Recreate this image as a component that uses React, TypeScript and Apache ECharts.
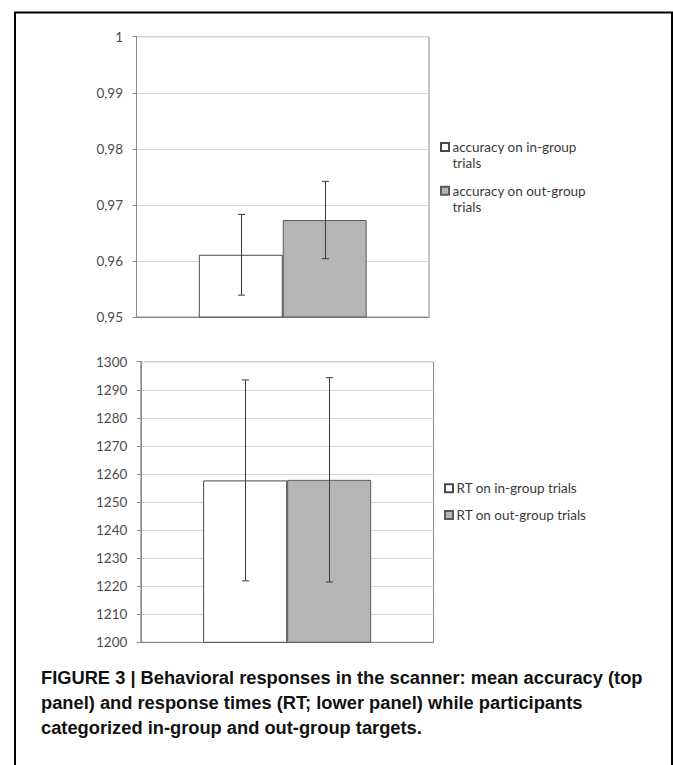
import React, { useEffect, useRef } from "react";
import * as echarts from "echarts";

const categories = [""];
const accSeriesNames = ["accuracy on in-group trials", "accuracy on out-group trials"];
const accMeans = [0.9611, 0.9673];
const accErrors = [0.0072, 0.0069];
const rtSeriesNames = ["RT on in-group trials", "RT on out-group trials"];
const rtMeans = [1257.7, 1257.9];
const rtErrors = [35.8, 36.4];
const captionLines = [
  "FIGURE 3 | Behavioral responses in the scanner: mean accuracy (top",
  "panel) and response times (RT; lower panel) while participants",
  "categorized in-group and out-group targets.",
];

const BAR_CAT_GAP = 0.426;
const labelFont = "Lato";
const fills = ["#ffffff", "#b5b5b5"];
const borders = ["#4a4a4a", "#5a5a5a"];

function errorRender(barIndex: number) {
  return (params: any, api: any) => {
    const cat = api.value(0);
    const lo = api.value(1);
    const hi = api.value(2);
    const band = api.size([1, 0])[0];
    const bw = (band * (1 - BAR_CAT_GAP)) / 2;
    const off = barIndex === 0 ? -bw / 2 : bw / 2;
    const pLo = api.coord([cat, lo]);
    const pHi = api.coord([cat, hi]);
    const x = Math.round(pLo[0] + off) + 0.5;
    const cap = 3.5;
    const style = { stroke: "#3c3c3c", lineWidth: 1 };
    return {
      type: "group",
      children: [
        { type: "line", shape: { x1: x, y1: pLo[1], x2: x, y2: pHi[1] }, style },
        { type: "line", shape: { x1: x - cap, y1: pLo[1], x2: x + cap, y2: pLo[1] }, style },
        { type: "line", shape: { x1: x - cap, y1: pHi[1], x2: x + cap, y2: pHi[1] }, style },
      ],
    };
  };
}

export default function App() {
  const ref = useRef<HTMLDivElement>(null);
  useEffect(() => {
    document.body.style.margin = "0";
    const chart = echarts.init(ref.current!, null, { renderer: "svg" });
    const yAxisCommon = {
      type: "value",
      axisLine: { show: true, lineStyle: { color: "#8a8a8a", width: 1 } },
      axisTick: { show: true, length: 4, lineStyle: { color: "#8a8a8a" } },
      splitLine: { show: true, lineStyle: { color: "#d4d4d4", width: 1 } },
      axisLabel: { color: "#4d4d4d", fontFamily: labelFont, fontSize: 13.5, margin: 13.5 },
    };
    const xAxisCommon = {
      type: "category",
      data: categories,
      axisLine: { show: true, lineStyle: { color: "#8a8a8a", width: 1 } },
      axisTick: { show: false },
      axisLabel: { show: false },
    };
    const barSeries = (name: string, i: number, value: number, axisIdx: number) => ({
      type: "bar",
      name,
      xAxisIndex: axisIdx,
      yAxisIndex: axisIdx,
      data: [value],
      barGap: "0%",
      barCategoryGap: BAR_CAT_GAP * 100 + "%",
      itemStyle: { color: fills[i], borderColor: borders[i], borderWidth: 1 },
      z: 2,
    });
    const option: any = {
      animation: false,
      backgroundColor: "#ffffff",
      grid: [
        { left: 136.5, top: 36.7, width: 292.5, height: 280.3, show: true, borderColor: "#8a8a8a", borderWidth: 1 },
        { left: 140.8, top: 361.7, width: 292.7, height: 280.6, show: true, borderColor: "#8a8a8a", borderWidth: 1 },
      ],
      xAxis: [
        { ...xAxisCommon, gridIndex: 0 },
        { ...xAxisCommon, gridIndex: 1 },
      ],
      yAxis: [
        {
          ...yAxisCommon,
          gridIndex: 0,
          min: 0.95,
          max: 1,
          interval: 0.01,
          axisLabel: {
            ...yAxisCommon.axisLabel,
            formatter: (v: number) => (Math.abs(v - 1) < 1e-9 ? "1" : v.toFixed(2).replace(".", ",")),
          },
        },
        {
          ...yAxisCommon,
          gridIndex: 1,
          min: 1200,
          max: 1300,
          interval: 10,
          axisLabel: { ...yAxisCommon.axisLabel, formatter: (v: number) => String(Math.round(v)) },
        },
      ],
      legend: [
        {
          data: accSeriesNames,
          left: 440,
          top: 138.7,
          padding: 0,
          orient: "vertical",
          icon: "path://M0,0L8,0L8,8L0,8ZM0,24.5",
          itemWidth: 8,
          itemHeight: 24.5,
          itemGap: 10.7,
          formatter: (n: string) => n.replace(" trials", "\ntrials"),
          textStyle: { color: "#3a3a3a", fontFamily: labelFont, fontSize: 13.5, lineHeight: 16.5, padding: [0, 0, 0, -1.5] },
        },
        {
          data: rtSeriesNames,
          left: 444,
          top: 480.3,
          padding: 0,
          orient: "vertical",
          icon: "rect",
          itemWidth: 8,
          itemHeight: 8,
          itemGap: 10.7,
          textStyle: { color: "#3a3a3a", fontFamily: labelFont, fontSize: 13.5, lineHeight: 16, padding: [0, 0, 0, -1.5] },
        },
      ],
      series: [
        barSeries(accSeriesNames[0], 0, accMeans[0], 0),
        barSeries(accSeriesNames[1], 1, accMeans[1], 0),
        barSeries(rtSeriesNames[0], 0, rtMeans[0], 1),
        barSeries(rtSeriesNames[1], 1, rtMeans[1], 1),
        {
          type: "custom",
          xAxisIndex: 0,
          yAxisIndex: 0,
          renderItem: errorRender(0),
          data: [[0, accMeans[0] - accErrors[0], accMeans[0] + accErrors[0]]],
          z: 5,
          silent: true,
        },
        {
          type: "custom",
          xAxisIndex: 0,
          yAxisIndex: 0,
          renderItem: errorRender(1),
          data: [[0, accMeans[1] - accErrors[1], accMeans[1] + accErrors[1]]],
          z: 5,
          silent: true,
        },
        {
          type: "custom",
          xAxisIndex: 1,
          yAxisIndex: 1,
          renderItem: errorRender(0),
          data: [[0, rtMeans[0] - rtErrors[0], rtMeans[0] + rtErrors[0]]],
          z: 5,
          silent: true,
        },
        {
          type: "custom",
          xAxisIndex: 1,
          yAxisIndex: 1,
          renderItem: errorRender(1),
          data: [[0, rtMeans[1] - rtErrors[1], rtMeans[1] + rtErrors[1]]],
          z: 5,
          silent: true,
        },
      ],
      graphic: [
        {
          type: "rect",
          shape: { x: 15, y: 12.5, width: 657, height: 800 },
          style: { fill: "none", stroke: "#000000", lineWidth: 2 },
          silent: true,
          z: 10,
        },
        {
          type: "text",
          x: 41,
          y: 665.2,
          style: {
            text: captionLines.join("\n"),
            fill: "#111111",
            font: "bold 18.3px 'Liberation Sans', Arial, sans-serif",
            lineHeight: 25,
            verticalAlign: "top",
          },
          silent: true,
        },
      ],
    };
    chart.setOption(option);
    return () => chart.dispose();
  }, []);
  return <div ref={ref} style={{ width: 673, height: 765 }} />;
}
